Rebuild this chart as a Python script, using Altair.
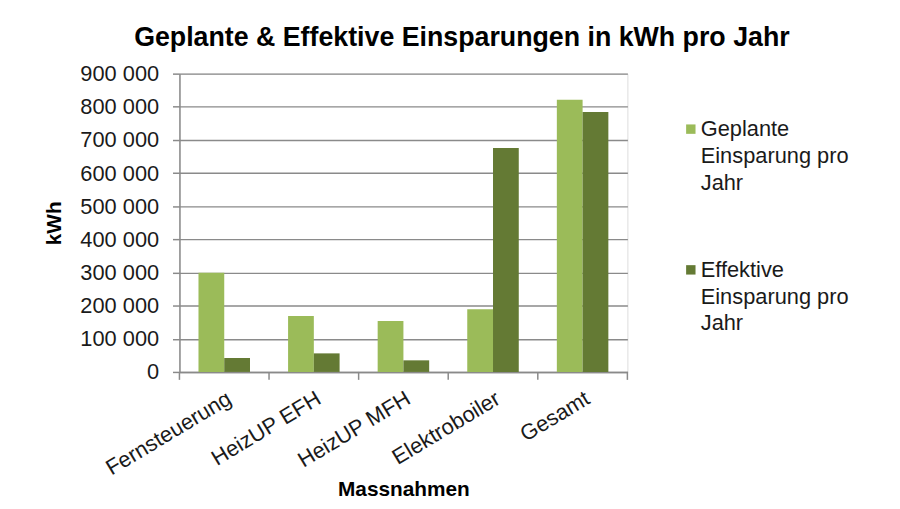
import altair as alt
import pandas as pd

categories = ["Fernsteuerung", "HeizUP EFH", "HeizUP MFH", "Elektroboiler", "Gesamt"]
series = ["Geplante Einsparung pro Jahr", "Effektive Einsparung pro Jahr"]
planned = [299000, 169000, 154000, 189000, 821000]
effective = [42000, 56000, 35000, 676000, 784000]
y_ticks = [0, 100000, 200000, 300000, 400000, 500000, 600000, 700000, 800000, 900000]
colors = ["#9BBB59", "#647A34"]

rows = []
for c, p, e in zip(categories, planned, effective):
    rows.append({"Massnahme": c, "Serie": series[0], "kWh": p})
    rows.append({"Massnahme": c, "Serie": series[1], "kWh": e})
df = pd.DataFrame(rows)

legend_df = pd.DataFrame({
    "Serie": series,
    "label": [s.replace(" Einsparung pro ", "|Einsparung pro|") for s in series],
})

FONT = "Liberation Sans"
GRID = "#8a8a8a"
color_scale = alt.Scale(domain=series, range=colors)

bars = alt.Chart(df).mark_bar().encode(
    x=alt.X(
        "Massnahme:N",
        sort=categories,
        scale=alt.Scale(domain=categories, paddingInner=0.425, paddingOuter=0.2125),
        axis=alt.Axis(
            title="Massnahmen",
            labelAngle=-31,
            labelAlign="right",
            labelBaseline="top",
            labelFontSize=22,
            labelFont=FONT,
            labelColor="#1a1a1a",
            labelPadding=16,
            ticks=False,
            domainColor=GRID,
            domainWidth=1.5,
            titleFont=FONT,
            titleFontSize=21,
            titleFontWeight="bold",
            titleColor="#000000",
            titleY=125,
            titleBaseline="alphabetic",
        ),
    ),
    xOffset=alt.XOffset("Serie:N", sort=series, scale=alt.Scale(domain=series, paddingInner=0, paddingOuter=0)),
    y=alt.Y(
        "kWh:Q",
        scale=alt.Scale(domain=[0, 900000], nice=False),
        axis=alt.Axis(
            title="kWh",
            values=y_ticks,
            labelExpr="replace(format(datum.value, ','), ',', ' ')",
            labelFontSize=22,
            labelFont=FONT,
            labelColor="#1a1a1a",
            labelPadding=14,
            tickSize=7,
            tickColor=GRID,
            tickWidth=1.5,
            domainColor=GRID,
            domainWidth=1.5,
            gridColor=GRID,
            gridWidth=1.4,
            titleFont=FONT,
            titleFontSize=21,
            titleFontWeight="bold",
            titleColor="#000000",
            titleX=-120,
            titleBaseline="alphabetic",
        ),
    ),
    color=alt.Color("Serie:N", sort=series, scale=color_scale, legend=None),
)

tick_scale = alt.Scale(domain=categories, paddingInner=0, paddingOuter=0)
ticks = alt.Chart(pd.DataFrame({"Massnahme": categories})).mark_rule(color=GRID, strokeWidth=1.5).encode(
    x=alt.X("Massnahme:N", sort=categories, bandPosition=0, scale=tick_scale, axis=None),
    y=alt.value(301),
    y2=alt.value(309),
)
last_tick = alt.Chart(pd.DataFrame({"Massnahme": [categories[-1]]})).mark_rule(color=GRID, strokeWidth=1.5).encode(
    x=alt.X("Massnahme:N", sort=categories, bandPosition=1, scale=tick_scale, axis=None),
    y=alt.value(301),
    y2=alt.value(309),
)

legend_y = alt.Y("Serie:N", sort=series, scale=alt.Scale(domain=series, range=[56, 198], padding=0), axis=None)
legend_sym = alt.Chart(legend_df).mark_square(size=90, opacity=1).encode(
    x=alt.value(516),
    y=legend_y,
    color=alt.Color("Serie:N", sort=series, scale=color_scale, legend=None),
)
legend_txt = alt.Chart(legend_df).mark_text(
    align="left",
    baseline="middle",
    lineBreak="|",
    lineHeight=27,
    font=FONT,
    fontSize=22,
    color="#1a1a1a",
).encode(
    x=alt.value(526),
    y=legend_y,
    text="label:N",
)

chart = alt.layer(bars, ticks, last_tick, legend_sym, legend_txt).resolve_scale(
    x="independent", y="independent"
).properties(
    width=452,
    height=301,
    autosize=alt.AutoSizeParams(type="none"),
    padding={"left": 173, "top": 64, "right": 267, "bottom": 128},
    title=alt.Title(
        "Geplante & Effektive Einsparungen in kWh pro Jahr",
        font=FONT,
        fontSize=27,
        fontWeight="bold",
        color="#000000",
        anchor="middle",
        dx=59,
        dy=22,
        offset=12,
        baseline="alphabetic",
    ),
).configure_view(stroke=None).configure(background="white")

chart.save("out.html", embed_options={"renderer": "svg", "actions": False})
